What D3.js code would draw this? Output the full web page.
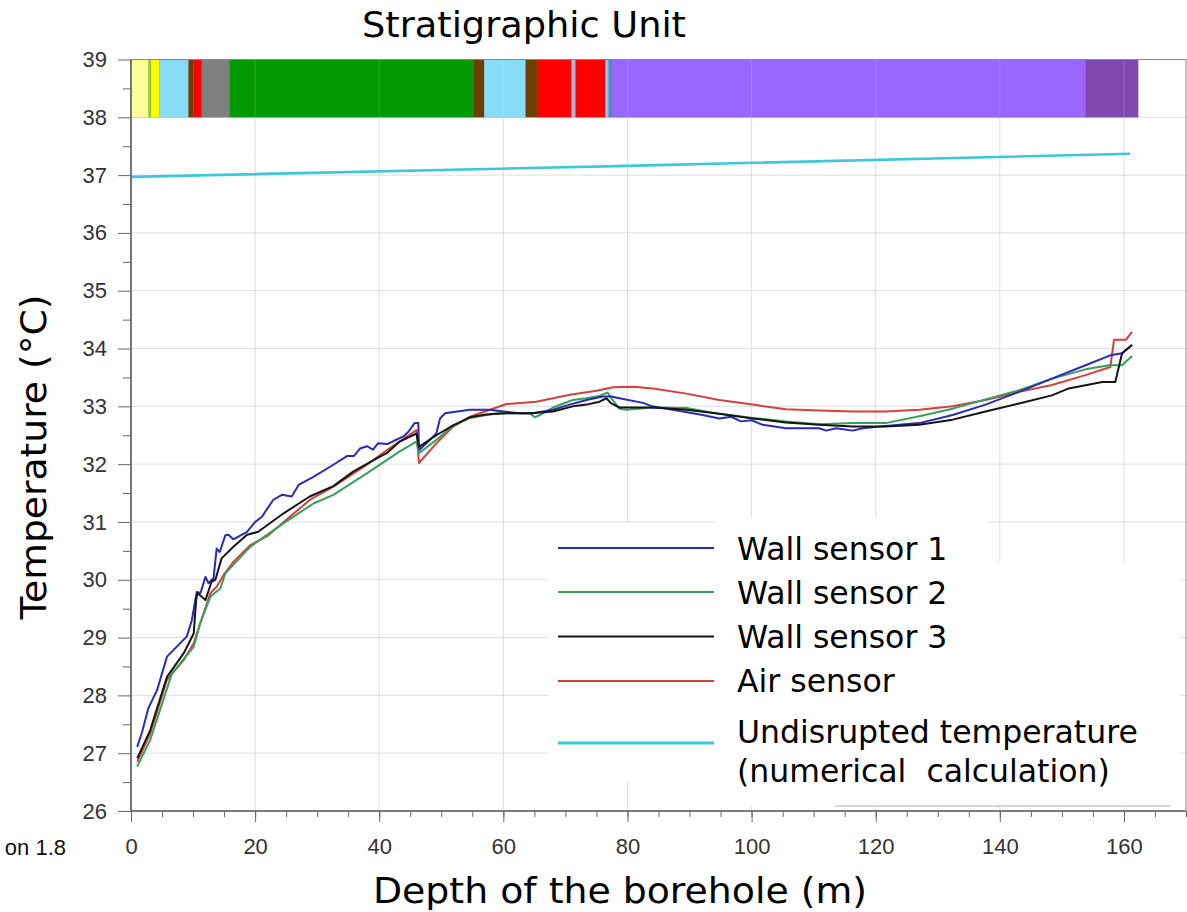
<!DOCTYPE html>
<html>
<head>
    <title>Borehole temperature profile</title>
    <script src="https://d3js.org/d3.v7.min.js"></script>
    <style>
        body { margin: 0; background: #fff; }
        .tick text { font-family: "Liberation Sans", Arial, sans-serif; font-size: 22px; fill: #333; }
        .domain { display: none; }
        .tick line { stroke: #666; }
        .title { font-family: "DejaVu Sans", Verdana, sans-serif; fill: #000; }
        .legend text { font-family: "DejaVu Sans", Verdana, sans-serif; font-size: 31.5px; fill: #000; white-space: pre; }
    </style>
</head>
<body>
<div id="chart"></div>

<script>
// 1. Data
const xTicks = [0, 20, 40, 60, 80, 100, 120, 140, 160];
const yTicks = [26, 27, 28, 29, 30, 31, 32, 33, 34, 35, 36, 37, 38, 39];

// stratigraphic units (depth from / to, m)
const unitFrom = [0, 2.84, 3.2, 4.6, 9.27, 10.08, 11.4, 15.87, 55.24, 56.9, 63.6, 65.4, 70.96, 71.65, 76.4, 77.0, 77.55, 153.8];
const unitTo   = [2.84, 3.2, 4.6, 9.27, 10.08, 11.4, 15.87, 55.24, 56.9, 63.6, 65.4, 70.96, 71.65, 76.4, 77.0, 77.55, 153.8, 162.3];
const unitColor = ["#ffff9a", "#8ee000", "#ffff00", "#88dcf8", "#6b4000", "#ff0000", "#7f7f7f", "#009900", "#6b4000",
                   "#88dcf8", "#6b4000", "#ff0000", "#aab4d8", "#ff0000", "#88c8f0", "#5a82e0", "#9966ff", "#8048b0"];

// [depth (m), temperature (°C)]
const wallSensor1 = [[1,27.11],[1.8,27.37],[2.8,27.78],[4.2,28.09],[5.8,28.67],[9.0,29.02],[9.8,29.30],[10.6,29.79],[11.2,29.77],
    [12.0,30.05],[12.5,29.94],[13.3,30.03],[13.8,30.54],[14.3,30.48],[15.2,30.77],[15.7,30.78],[16.5,30.70],[18.7,30.83],
    [20,31.0],[21.1,31.09],[22.9,31.38],[24.3,31.47],[25.9,31.44],[27,31.64],[29.4,31.78],[32.6,31.99],[34.8,32.14],
    [35.9,32.14],[36.9,32.27],[38,32.31],[39,32.25],[39.8,32.36],[41.4,32.35],[42.3,32.40],[43.9,32.48],[44.7,32.56],
    [45.7,32.71],[46.3,32.71],[46.4,32.30],[46.5,32.25],[49.2,32.53],[49.8,32.79],[50.6,32.88],[54.6,32.94],[57.8,32.94],
    [62.6,32.88],[64.8,32.88],[68,32.94],[70.7,33.03],[73.4,33.11],[76,33.17],[77.4,33.17],[78.7,33.14],[82.5,33.06],
    [84,33.0],[87.3,32.94],[92.1,32.85],[94.8,32.79],[96.7,32.82],[98.3,32.74],[100,32.76],[101.8,32.68],[105.5,32.62],
    [110.9,32.62],[112,32.58],[113.6,32.62],[116.3,32.58],[117.9,32.62],[121.6,32.66],[127,32.71],[132.4,32.85],
    [137.7,33.03],[143.1,33.25],[148.4,33.48],[153.8,33.71],[158,33.89],[159.7,33.92],[161.3,34.06]];

const wallSensor2 = [[1,26.77],[3.1,27.23],[6.6,28.38],[10.1,28.84],[11.15,29.25],[12.8,29.71],[14.4,29.85],[15.2,30.11],
    [19.2,30.57],[24.6,30.98],[29.4,31.32],[32.6,31.47],[38,31.84],[41.2,32.07],[43.3,32.22],[46.0,32.39],[46.4,32.19],
    [49.2,32.42],[51.9,32.66],[54.6,32.80],[58.9,32.88],[64.3,32.88],[65.05,32.81],[65.9,32.85],[68,32.98],[71.2,33.11],
    [73.4,33.14],[75.5,33.18],[76.8,33.24],[77.4,33.14],[78.7,32.96],[79.8,32.94],[84,32.98],[89.5,32.97],[94.8,32.87],
    [100.2,32.80],[105.5,32.74],[110.9,32.69],[116.3,32.71],[121.6,32.71],[127,32.83],[132.4,32.96],[137.7,33.12],
    [143.1,33.28],[148.4,33.48],[153.8,33.64],[157.6,33.71],[159.7,33.71],[161.3,33.87]];

const wallSensor3 = [[1,26.91],[3.1,27.40],[5.8,28.32],[8.5,28.73],[10.1,29.07],[10.5,29.65],[10.7,29.77],[12.0,29.65],
    [13.0,29.97],[13.6,30.0],[14.6,30.37],[16.5,30.57],[18.7,30.78],[20.5,30.83],[24.6,31.15],[28.8,31.44],[32.6,31.62],
    [35.8,31.87],[39.6,32.10],[41.2,32.19],[43.3,32.39],[46.0,32.53],[46.4,32.30],[49.2,32.50],[51.9,32.67],[54.6,32.81],
    [57.2,32.86],[60.5,32.88],[64.3,32.88],[68,32.91],[71.2,33.0],[73.4,33.03],[75.5,33.08],[76.6,33.14],[77.4,33.05],
    [78.7,32.98],[84,32.98],[89.5,32.94],[94.8,32.87],[100.2,32.79],[105.5,32.72],[110.9,32.68],[116.3,32.65],[121.6,32.65],
    [127,32.68],[132.4,32.77],[137.7,32.91],[143.1,33.05],[148.4,33.19],[151.1,33.31],[156.5,33.42],[158.6,33.42],
    [159.7,33.92],[161.3,34.06]];

const airSensor = [[1,26.85],[3.1,27.34],[5.8,28.27],[8.5,28.61],[10.1,28.90],[11.7,29.42],[12.8,29.77],[13.8,29.88],
    [14.9,30.08],[16.5,30.31],[19.2,30.60],[21.9,30.75],[24.6,31.0],[28.8,31.38],[32.6,31.61],[38,31.99],[41.7,32.28],
    [46.0,32.59],[46.4,32.02],[49.2,32.36],[51.9,32.65],[54.6,32.82],[58.9,32.98],[60.5,33.04],[65.3,33.08],[70.7,33.2],
    [75,33.27],[77.7,33.33],[80.9,33.34],[84.1,33.31],[89.5,33.22],[94.8,33.11],[100.2,33.03],[105.5,32.95],[110.9,32.93],
    [116.3,32.91],[121.6,32.91],[127,32.94],[132.4,33.0],[137.7,33.11],[143.1,33.25],[148.4,33.37],[153.8,33.54],
    [157.8,33.68],[158.4,34.15],[160.3,34.15],[161.3,34.29]];

const undisrupted = [[0,36.97],[80,37.16],[161,37.37]];

const seriesNames = ["Wall sensor 1", "Wall sensor 2", "Wall sensor 3", "Air sensor"];

// 2. Chart setup
const width = 1187, height = 912;
const plotLeft = 131, plotRight = 1186, plotTop = 59.5, plotBottom = 811;

const svg = d3.select("#chart").append("svg")
    .attr("width", width)
    .attr("height", height);

const x = d3.scaleLinear().domain([0, 170]).range([plotLeft, plotRight]);
const y = d3.scaleLinear().domain([26, 39]).range([plotBottom, plotTop]);

// gridlines
const grid = svg.append("g");
grid.selectAll(".vgrid").data(xTicks).enter().append("line")
    .attr("x1", d => x(d)).attr("x2", d => x(d))
    .attr("y1", plotTop).attr("y2", plotBottom)
    .attr("stroke", "rgb(150,150,150)").attr("stroke-opacity", 0.3);
grid.selectAll(".hgrid").data(yTicks).enter().append("line")
    .attr("x1", plotLeft).attr("x2", plotRight)
    .attr("y1", d => y(d)).attr("y2", d => y(d))
    .attr("stroke", "rgb(150,150,150)").attr("stroke-opacity", 0.3);

// 3. Stratigraphic unit bar (between 38 and 39)
svg.append("g").selectAll("rect")
    .data(unitFrom)
    .enter().append("rect")
    .attr("x", (d, i) => x(d))
    .attr("width", (d, i) => x(unitTo[i]) - x(d))
    .attr("y", y(39))
    .attr("height", y(38) - y(39))
    .attr("fill", (d, i) => unitColor[i])
    .attr("stroke", "rgba(0,0,0,0.18)")
    .attr("stroke-width", 0.6);

// gridlines show faintly through the bar
svg.append("g").selectAll("line").data(xTicks).enter().append("line")
    .attr("x1", d => x(d)).attr("x2", d => x(d))
    .attr("y1", y(39)).attr("y2", y(38))
    .attr("stroke", "#fff").attr("stroke-opacity", 0.18);

// 4. Legend backing (white patches hide the grid)
const legendPatches = [[548, 523, 167, 259], [715, 517, 273, 289], [988, 562, 192, 244]];
svg.append("g").selectAll("rect").data(legendPatches).enter().append("rect")
    .attr("x", d => d[0]).attr("y", d => d[1])
    .attr("width", d => d[2]).attr("height", d => d[3])
    .attr("fill", "#fff");
svg.append("line")
    .attr("x1", 835).attr("x2", 1170).attr("y1", 806).attr("y2", 806)
    .attr("stroke", "#c8c8c8").attr("stroke-width", 1.5);

// 5. Lines
const line = d3.line().x(d => x(d[0])).y(d => y(d[1]));
const seriesData = [undisrupted, airSensor, wallSensor2, wallSensor1, wallSensor3];
const seriesColor = ["#3ec6dc", "#d43f3f", "#36a05a", "#2a2ab8", "#151515"];
const seriesWidth = [2.6, 2, 2, 2, 2];

svg.append("g").selectAll("path")
    .data(seriesData)
    .enter().append("path")
    .attr("d", line)
    .attr("fill", "none")
    .attr("stroke", (d, i) => seriesColor[i])
    .attr("stroke-width", (d, i) => seriesWidth[i])
    .attr("stroke-linejoin", "round");

// 6. Axes
svg.append("g")
    .attr("transform", `translate(0,${plotBottom})`)
    .call(d3.axisBottom(x).tickValues(d3.range(0, 171, 5)).tickSize(6).tickFormat(""));
svg.append("g")
    .attr("transform", `translate(0,${plotBottom})`)
    .call(d3.axisBottom(x).tickValues(xTicks).tickSize(11).tickPadding(16));

svg.append("g")
    .attr("transform", `translate(${plotLeft},0)`)
    .call(d3.axisLeft(y).tickValues(d3.range(26.5, 39, 1)).tickSize(8).tickFormat(""));
svg.append("g")
    .attr("transform", `translate(${plotLeft},0)`)
    .call(d3.axisLeft(y).tickValues(yTicks).tickSize(13).tickPadding(11));

// frame
svg.append("rect")
    .attr("x", plotLeft).attr("y", plotTop)
    .attr("width", plotRight - plotLeft).attr("height", plotBottom - plotTop)
    .attr("fill", "none").attr("stroke", "#8a8a8a").attr("stroke-width", 1);
svg.append("line")
    .attr("x1", plotLeft).attr("x2", plotLeft).attr("y1", plotTop).attr("y2", plotBottom)
    .attr("stroke", "#666").attr("stroke-width", 1.6);
svg.append("line")
    .attr("x1", plotLeft).attr("x2", plotRight).attr("y1", plotBottom).attr("y2", plotBottom)
    .attr("stroke", "#666").attr("stroke-width", 1.4);

// 7. Titles
svg.append("text").attr("class", "title")
    .attr("x", 524).attr("y", 37)
    .attr("text-anchor", "middle")
    .attr("font-size", 35)
    .attr("textLength", 324).attr("lengthAdjust", "spacingAndGlyphs")
    .text("Stratigraphic Unit");

svg.append("text").attr("class", "title")
    .attr("x", 620).attr("y", 903)
    .attr("text-anchor", "middle")
    .attr("font-size", 35)
    .attr("textLength", 494).attr("lengthAdjust", "spacingAndGlyphs")
    .text("Depth of the borehole (m)");

svg.append("text").attr("class", "title")
    .attr("transform", "translate(46,457) rotate(-90)")
    .attr("text-anchor", "middle")
    .attr("font-size", 35)
    .attr("textLength", 325).attr("lengthAdjust", "spacingAndGlyphs")
    .text("Temperature (°C)");

// cut-off caption at lower left
svg.append("text")
    .attr("x", 66).attr("y", 855)
    .attr("text-anchor", "end")
    .style("font-family", "'Liberation Sans', Arial, sans-serif")
    .style("font-size", "22px")
    .attr("fill", "#111")
    .text("on 1.8");

// 8. Legend
const legendItems = [
    { name: seriesNames[0], color: "#2a2ab8", ly: 548, ty: 560 },
    { name: seriesNames[1], color: "#36a05a", ly: 592, ty: 604 },
    { name: seriesNames[2], color: "#151515", ly: 636.5, ty: 648 },
    { name: seriesNames[3], color: "#d43f3f", ly: 681, ty: 692 },
    { name: "Undisrupted temperature", color: "#3ec6dc", ly: 743, ty: 743 },
];
const legend = svg.append("g").attr("class", "legend");
legend.selectAll("line").data(legendItems).enter().append("line")
    .attr("x1", 558).attr("x2", 714)
    .attr("y1", d => d.ly).attr("y2", d => d.ly)
    .attr("stroke", d => d.color)
    .attr("stroke-width", (d, i) => i === 4 ? 3 : 2);
legend.selectAll("text").data(legendItems).enter().append("text")
    .attr("x", 737).attr("y", d => d.ty)
    .text(d => d.name);
legend.append("text")
    .attr("x", 737).attr("y", 782)
    .text("(numerical  calculation)");
</script>
</body>
</html>
